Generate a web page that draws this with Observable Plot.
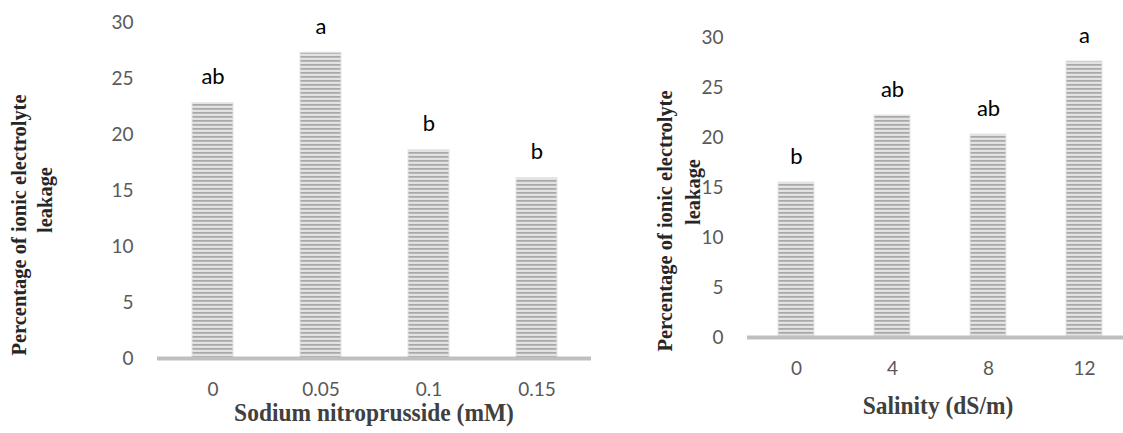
<!DOCTYPE html>
<html><head><meta charset="utf-8">
<script src="https://cdn.jsdelivr.net/npm/d3@7"></script>
<script src="https://cdn.jsdelivr.net/npm/@observablehq/plot@0.6"></script>
<style>
html,body{margin:0;padding:0;background:#fff;}
#wrap{position:relative;width:1123px;height:433px;overflow:hidden;background:#fff;}
#left{position:absolute;left:0;top:0;}
#right{position:absolute;left:600px;top:0;}
svg text.serif-title{font-family:"Liberation Serif","DejaVu Serif",serif !important;font-weight:bold !important;}
</style></head><body>
<svg width="0" height="0" style="position:absolute">
<defs><pattern id="hstripe" width="8" height="4" patternUnits="userSpaceOnUse">
<rect width="8" height="4" fill="#e2e2e2"/><rect y="0" width="8" height="1.7" fill="#a8a8a8"/></pattern></defs></svg>
<div id="wrap"><div id="left"></div><div id="right"></div></div>
<script>
const snpLevels = ["0", "0.05", "0.1", "0.15"];
const snpLeakage = [22.8, 27.3, 18.6, 16.1];
const snpLetters = ["ab", "a", "b", "b"];
const salinityLevels = ["0", "4", "8", "12"];
const salinityLeakage = [15.5, 22.2, 20.3, 27.6];
const salinityLetters = ["b", "ab", "ab", "a"];
const yTicks = [0, 5, 10, 15, 20, 25, 30];
const yTitle1 = "Percentage of ionic electrolyte";
const yTitle2 = "leakage";
const snpTitle = "Sodium nitroprusside (mM)";
const salinityTitle = "Salinity (dS/m)";

function panel(o) {
  const data = o.levels.map((l, i) => ({level: l, value: o.values[i], letter: o.letters[i]}));
  const plot = Plot.plot({
    width: o.width, height: 433,
    marginLeft: o.marginLeft, marginRight: o.marginRight,
    marginTop: o.marginTop, marginBottom: o.marginBottom,
    style: {fontFamily: "Lato, sans-serif", fontSize: "19px", color: "#595959", background: "transparent"},
    x: {type: "band", domain: o.levels, paddingInner: 0.622, paddingOuter: 0.311, range: o.xRange, axis: null},
    y: {domain: [0, 30], axis: null},
    marks: [
      Plot.axisY(yTicks, {tickSize: 0, tickPadding: 24, fontSize: 19, label: null}),
      Plot.axisX({tickSize: 0, tickPadding: 24, fontSize: 19, label: null}),
      Plot.barY(data, {x: "level", y: "value", fill: "url(#hstripe)", stroke: "#e6e6e6", strokeWidth: 1}),
      Plot.ruleY([0], {stroke: "#bfbfbf", strokeWidth: 4}),
      Plot.text(data, {x: "level", y: "value", text: "letter", dy: -26, fontSize: 22, fill: "#000"})
    ]
  });
  const svg = d3.select(plot);
  const t = (x, y, rot, size, sx, txt, fill) => svg.append("text")
    .attr("class", "serif-title")
    .attr("transform", `translate(${x},${y})` + (rot ? " rotate(-90)" : "") + ` scale(${sx},1)`)
    .attr("text-anchor", "middle")
    .attr("fill", fill)
    .attr("font-family", "Liberation Serif, DejaVu Serif, serif")
    .attr("font-weight", "bold")
    .attr("font-size", size)
    .text(txt);
  t(o.y1x, o.y1y, true, 22, 0.93, yTitle1, "#262626");
  t(o.y2x, o.y2y, true, 22, 0.93, yTitle2, "#262626");
  t(o.xtx, o.xty, false, 25.5, 0.92, o.xTitle, "#404040");
  return plot;
}

document.getElementById("left").appendChild(panel({
  levels: snpLevels, values: snpLeakage, letters: snpLetters,
  width: 600, marginLeft: 157, marginRight: 9, marginTop: 22, marginBottom: 75,
  xRange: [157, 591],
  y1x: 26, y1y: 225, y2x: 52, y2y: 200,
  xtx: 374, xty: 421, xTitle: snpTitle
}));
document.getElementById("right").appendChild(panel({
  levels: salinityLevels, values: salinityLeakage, letters: salinityLetters,
  width: 523, marginLeft: 147, marginRight: 0, marginTop: 37, marginBottom: 96,
  xRange: [147, 533],
  y1x: 72, y1y: 221, y2x: 100, y2y: 192,
  xtx: 338, xty: 414, xTitle: salinityTitle
}));
</script>
</body></html>
